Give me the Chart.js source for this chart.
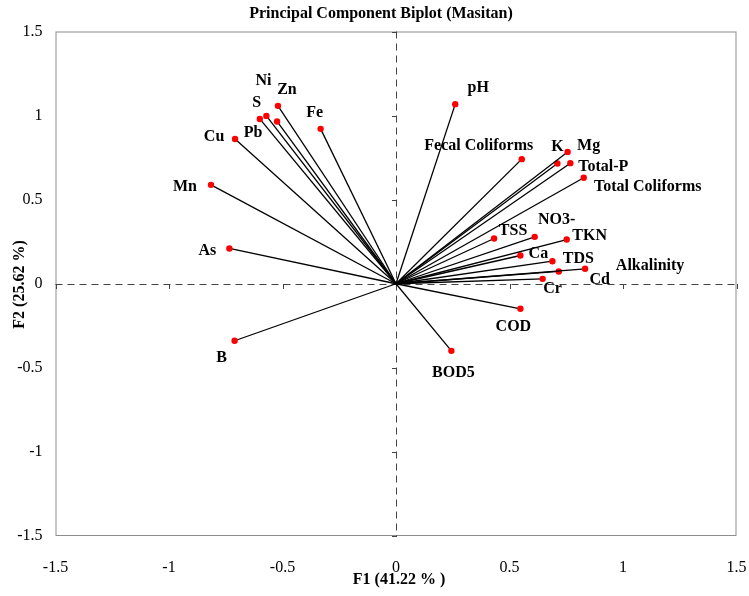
<!DOCTYPE html>
<html>
<head>
<meta charset="utf-8">
<script src="https://cdn.jsdelivr.net/npm/chart.js@4"></script>
<style>
  html, body { margin: 0; padding: 0; background: #fff; }
  #wrap { width: 749px; height: 596px; position: relative; }
</style>
</head>
<body>
<div id="wrap"><canvas id="c" width="749" height="596"></canvas></div>
<script>
// ---- Data ----
const variables = ["Zn","Ni","S","Pb","Fe","Cu","Mn","As","B","pH","Fecal Coliforms","Mg","K","Total-P","Total Coliforms","TSS","NO3-","TKN","Ca","TDS","Alkalinity","Cd","Cr","COD","BOD5"];
const f1Loadings = [-0.520,-0.571,-0.600,-0.524,-0.332,-0.709,-0.815,-0.734,-0.711,0.261,0.554,0.756,0.711,0.768,0.827,0.432,0.611,0.752,0.548,0.689,0.833,0.717,0.646,0.548,0.244];
const f2Loadings = [1.058,0.998,0.980,0.965,0.921,0.861,0.588,0.210,-0.339,1.068,0.741,0.784,0.715,0.717,0.630,0.269,0.279,0.263,0.168,0.134,0.089,0.073,0.029,-0.149,-0.399];
const axisTicks = [-1.5,-1,-0.5,0,0.5,1,1.5];
const chartTitle = "Principal Component Biplot (Masitan)";
const xAxisTitle = "F1 (41.22 % )";
const yAxisTitle = "F2 (25.62 %)";

// ---- Label placement (pixel offsets from each point) ----
const labelOffsets = {
  "Zn":[9,-16],"Ni":[-3,-35],"S":[-3,-16],"Pb":[-24,11],"Fe":[-6,-16],"Cu":[-21,-2],
  "Mn":[-26,2],"As":[-22,2],"B":[-13,17],"pH":[23,-16],"Fecal Coliforms":[-43,-13],
  "Mg":[21,-6],"K":[0,-17],"Total-P":[33,4],"Total Coliforms":[64,9],"TSS":[19,-8],
  "NO3-":[22,-17],"TKN":[23,-4],"Ca":[18,-2],"TDS":[26,-2],"Alkalinity":[65,-3],
  "Cd":[41,8],"Cr":[10,10],"COD":[-7,18],"BOD5":[2,22]
};

const SERIF = "'Liberation Serif','Times New Roman',serif";

const datasets = variables.map((name, i) => ({
  label: name,
  data: [{x: 0, y: 0}, {x: f1Loadings[i], y: f2Loadings[i]}],
  showLine: true,
  borderColor: '#000',
  borderWidth: 1.3,
  pointRadius: [0, 3.2],
  pointHoverRadius: [0, 3.2],
  pointBackgroundColor: '#ff0000',
  pointBorderColor: '#ff0000',
  pointBorderWidth: 0,
  tension: 0
}));

const decor = {
  id: 'decor',
  beforeDatasetsDraw(chart) {
    const ctx = chart.ctx, a = chart.chartArea;
    const xs = chart.scales.x, ys = chart.scales.y;
    const x0 = xs.getPixelForValue(0), y0 = ys.getPixelForValue(0);
    ctx.save();
    // frame
    ctx.strokeStyle = '#8c8c8c';
    ctx.lineWidth = 1;
    ctx.strokeRect(a.left + 0.5, a.top + 0.5, a.right - a.left - 1, a.bottom - a.top - 1);
    // dashed zero lines
    ctx.strokeStyle = '#444';
    ctx.lineWidth = 1;
    ctx.setLineDash([7, 5]);
    ctx.beginPath();
    ctx.moveTo(a.left, Math.round(y0) + 0.5); ctx.lineTo(a.right, Math.round(y0) + 0.5);
    ctx.moveTo(Math.round(x0) + 0.5, a.top); ctx.lineTo(Math.round(x0) + 0.5, a.bottom);
    ctx.stroke();
    ctx.setLineDash([]);
    // tick marks on zero lines
    ctx.beginPath();
    axisTicks.forEach(v => {
      const px = Math.round(xs.getPixelForValue(v)) + 0.5;
      ctx.moveTo(px, Math.round(y0)); ctx.lineTo(px, Math.round(y0) + 5);
      const py = Math.round(ys.getPixelForValue(v)) + 0.5;
      ctx.moveTo(Math.round(x0) + 1, py); ctx.lineTo(Math.round(x0) - 4, py);
    });
    ctx.stroke();
    ctx.restore();
  },
  afterDraw(chart) {
    const ctx = chart.ctx;
    const xs = chart.scales.x, ys = chart.scales.y;
    ctx.save();
    ctx.fillStyle = '#000';
    ctx.textAlign = 'center';
    ctx.textBaseline = 'middle';
    ctx.font = 'bold 16px ' + SERIF;
    variables.forEach((name, i) => {
      const off = labelOffsets[name] || [0, 0];
      ctx.fillText(name, xs.getPixelForValue(f1Loadings[i]) + off[0], ys.getPixelForValue(f2Loadings[i]) + off[1]);
    });
    // title
    ctx.font = 'bold 16px ' + SERIF;
    ctx.fillText(chartTitle, 381, 14);
    // axis titles
    ctx.fillText(xAxisTitle, 399, 580);
    ctx.translate(20, 284.5);
    ctx.rotate(-Math.PI / 2);
    ctx.fillText(yAxisTitle, 0, 0);
    ctx.restore();
  }
};

new Chart(document.getElementById('c'), {
  type: 'scatter',
  data: { datasets },
  options: {
    responsive: false,
    animation: false,
    layout: { padding: { left: 0, right: 12.5, top: 31.5, bottom: 0 } },
    plugins: { legend: { display: false }, tooltip: { enabled: false }, title: { display: false } },
    scales: {
      x: {
        type: 'linear', min: -1.5, max: 1.5,
        afterBuildTicks: s => { s.ticks = axisTicks.map(v => ({ value: v })); },
        afterFit: s => { s.height = 60; s.paddingLeft = 0; s.paddingRight = 0; },
        grid: { display: false, drawTicks: false },
        border: { display: false },
        ticks: { color: '#000', font: { family: SERIF, size: 16 }, padding: 22, maxRotation: 0,
                 callback: v => String(v) }
      },
      y: {
        type: 'linear', min: -1.5, max: 1.5,
        afterBuildTicks: s => { s.ticks = axisTicks.map(v => ({ value: v })); },
        afterFit: s => { s.width = 55.5; s.paddingTop = 0; s.paddingBottom = 0; },
        grid: { display: false, drawTicks: false },
        border: { display: false },
        ticks: { color: '#000', font: { family: SERIF, size: 16 }, padding: 13,
                 callback: v => String(v) }
      }
    }
  },
  plugins: [decor]
});
</script>
</body>
</html>
